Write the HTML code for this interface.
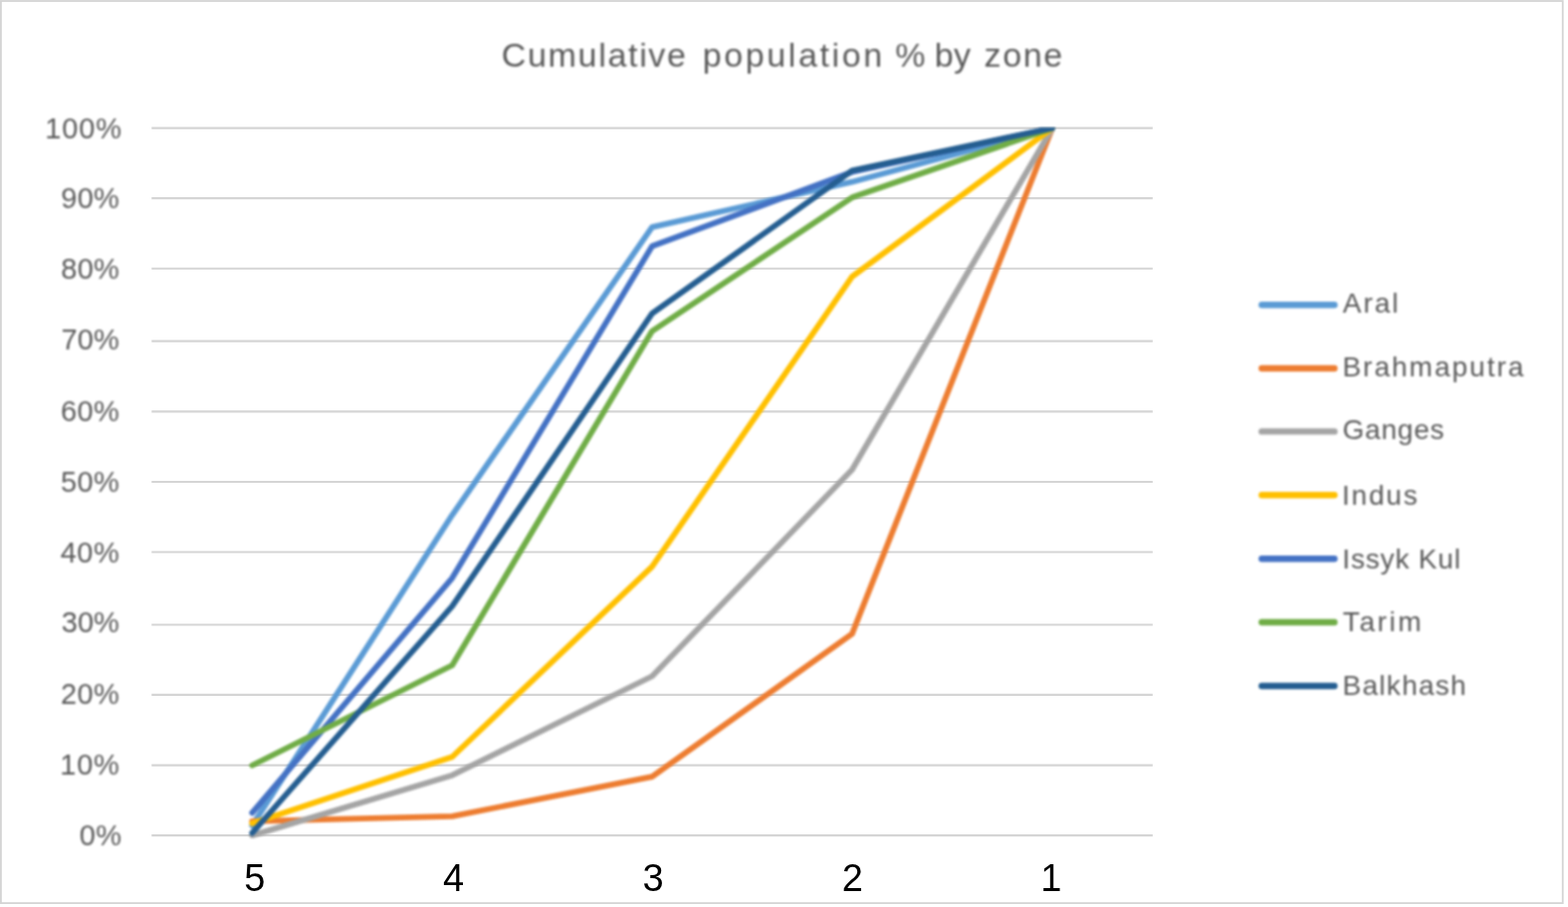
<!DOCTYPE html>
<html lang="en">
<head>
<meta charset="utf-8">
<title>Cumulative population % by zone</title>
<style>
html,body{margin:0;padding:0;background:#fff;}
body{width:1575px;height:911px;overflow:hidden;position:relative;font-family:"Liberation Sans",sans-serif;}
svg{position:absolute;left:0;top:0;display:block;}
text{font-family:"Liberation Sans",sans-serif;white-space:pre;}
.ax{fill:#595959;font-size:29px;}
.cat{fill:#000;font-size:38px;}
.ttl{fill:#595959;font-size:34px;}
.leg{fill:#595959;font-size:28px;}
.soft{filter:blur(0.8px);}
.softt{filter:blur(0.8px);}
</style>
</head>
<body>
<svg width="1575" height="911" viewBox="0 0 1575 911">
<rect x="0" y="0" width="1575" height="911" fill="#ffffff"/>
<rect x="0.9" y="1" width="1568.8" height="906.1" fill="#ffffff" stroke="#d4d4d4" stroke-width="1.8"/>

<g stroke="#d5d5d5" stroke-width="2.2" fill="none">
<line x1="152.3" y1="128.70" x2="1157.8" y2="128.70"/>
<line x1="152.3" y1="199.10" x2="1157.8" y2="199.10"/>
<line x1="152.3" y1="269.75" x2="1157.8" y2="269.75"/>
<line x1="152.3" y1="342.70" x2="1157.8" y2="342.70"/>
<line x1="152.3" y1="413.40" x2="1157.8" y2="413.40"/>
<line x1="152.3" y1="484.00" x2="1157.8" y2="484.00"/>
<line x1="152.3" y1="554.50" x2="1157.8" y2="554.50"/>
<line x1="152.3" y1="627.50" x2="1157.8" y2="627.50"/>
<line x1="152.3" y1="697.80" x2="1157.8" y2="697.80"/>
<line x1="152.3" y1="768.60" x2="1157.8" y2="768.60"/>
<line x1="152.3" y1="839.10" x2="1157.8" y2="839.10"/>
</g>
<g class="soft">
<clipPath id="plot"><rect x="250.7" y="128.3" width="808.6" height="714"/></clipPath>
<g fill="none" stroke-width="5.8" stroke-linejoin="round" stroke-linecap="round" clip-path="url(#plot)">
<polyline stroke="#5b9bd5" points="253.30,829.15 454.20,517.29 655.00,228.16 855.90,182.69 1057.00,128.70"/>
<polyline stroke="#ed7d31" points="253.30,824.89 454.20,819.92 655.00,780.14 855.90,636.64 1057.00,128.70"/>
<polyline stroke="#a5a5a5" points="253.30,839.10 454.20,778.72 655.00,679.26 855.90,471.82 1057.00,128.70"/>
<polyline stroke="#ffc000" points="253.30,827.02 454.20,760.25 655.00,569.15 855.90,277.88 1057.00,128.70"/>
<polyline stroke="#4472c4" points="253.30,816.37 454.20,580.51 655.00,247.34 855.90,172.74 1057.00,128.70"/>
<polyline stroke="#70ad47" points="253.30,768.77 454.20,668.25 655.00,332.58 855.90,198.32 1057.00,128.70"/>
<polyline stroke="#255e91" points="253.30,836.61 454.20,608.93 655.00,314.82 855.90,171.32 1057.00,128.70"/>
</g>
<g stroke-width="6.4" stroke-linecap="round">
<line x1="1267.4" y1="306.2" x2="1340.4" y2="306.2" stroke="#5b9bd5"/>
<line x1="1267.4" y1="370.0" x2="1340.4" y2="370.0" stroke="#ed7d31"/>
<line x1="1267.4" y1="433.4" x2="1340.4" y2="433.4" stroke="#a5a5a5"/>
<line x1="1267.4" y1="497.3" x2="1340.4" y2="497.3" stroke="#ffc000"/>
<line x1="1267.4" y1="561.2" x2="1340.4" y2="561.2" stroke="#4472c4"/>
<line x1="1267.4" y1="625.0" x2="1340.4" y2="625.0" stroke="#70ad47"/>
<line x1="1267.4" y1="689.0" x2="1340.4" y2="689.0" stroke="#255e91"/>
</g>
</g>
<g class="softt">
<text class="ttl" y="67.40"><tspan x="503.75" style="letter-spacing:1.683px">Cumulative</tspan> <tspan x="705.75" style="letter-spacing:2.600px">population</tspan> <tspan x="899.27" style="letter-spacing:0.000px">%</tspan> <tspan x="938.75" style="letter-spacing:0.300px">by</tspan> <tspan x="988.50" style="letter-spacing:1.683px">zone</tspan></text>
<text class="ax" x="79.75" y="848.90" style="letter-spacing:0.300px">0%</text>
<text class="ax" x="60.25" y="777.70" style="letter-spacing:0.775px">10%</text>
<text class="ax" x="61.00" y="706.70" style="letter-spacing:0.400px">20%</text>
<text class="ax" x="61.75" y="635.40" style="letter-spacing:0.025px">30%</text>
<text class="ax" x="60.65" y="564.80" style="letter-spacing:0.575px">40%</text>
<text class="ax" x="61.05" y="493.80" style="letter-spacing:0.375px">50%</text>
<text class="ax" x="61.00" y="422.50" style="letter-spacing:0.400px">60%</text>
<text class="ax" x="61.50" y="350.90" style="letter-spacing:0.150px">70%</text>
<text class="ax" x="61.25" y="279.90" style="letter-spacing:0.275px">80%</text>
<text class="ax" x="61.25" y="209.30" style="letter-spacing:0.275px">90%</text>
<text class="ax" x="45.35" y="138.70" style="letter-spacing:0.817px">100%</text>
<text class="leg" x="1348.80" y="313.70" style="letter-spacing:1.933px">Aral</text>
<text class="leg" x="1348.45" y="377.50" style="letter-spacing:2.005px">Brahmaputra</text>
<text class="leg" x="1348.50" y="440.90" style="letter-spacing:0.800px">Ganges</text>
<text class="leg" x="1347.90" y="506.90" style="letter-spacing:1.825px">Indus</text>
<text class="leg" x="1348.30" y="570.70" style="letter-spacing:0.831px">Issyk Kul</text>
<text class="leg" x="1348.85" y="634.30" style="letter-spacing:2.562px">Tarim</text>
<text class="leg" x="1348.55" y="697.70" style="letter-spacing:1.279px">Balkhash</text>
</g>
<text class="cat" x="245.25" y="894.90" style="letter-spacing:0.000px">5</text>
<text class="cat" x="444.88" y="894.90" style="letter-spacing:0.000px">4</text>
<text class="cat" x="645.40" y="894.90" style="letter-spacing:0.000px">3</text>
<text class="cat" x="845.73" y="894.90" style="letter-spacing:0.000px">2</text>
<text class="cat" x="1045.22" y="894.90" style="letter-spacing:0.000px">1</text>
</svg>
</body>
</html>
